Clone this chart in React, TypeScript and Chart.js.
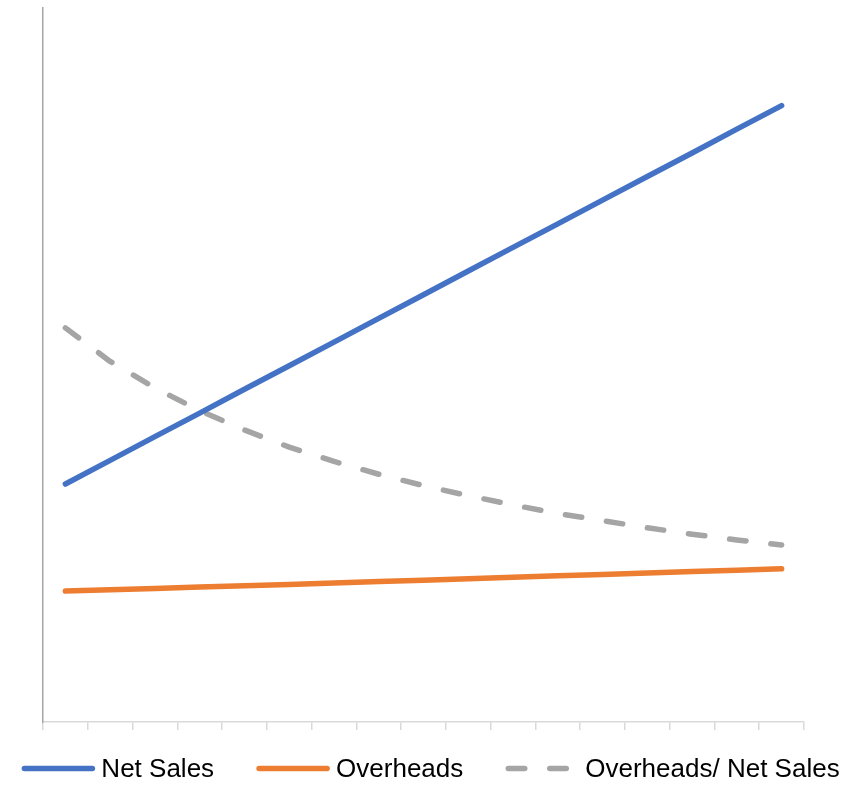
import React, { useEffect, useRef } from "react";
import { Chart, registerables } from "chart.js";

Chart.register(...registerables);

// Periods along the horizontal axis (not labelled on the chart)
const periods = ["1", "2", "3", "4", "5", "6", "7", "8", "9", "10", "11", "12", "13", "14", "15", "16", "17"];

// Net sales per period
const netSales = [100, 109.9, 119.9, 129.8, 139.8, 149.7, 159.6, 169.6, 179.5, 189.5, 199.4, 209.3, 219.3, 229.2, 239.1, 249.1, 259.0];

// Overheads per period
const overheads = [55.0, 55.6, 56.1, 56.7, 57.2, 57.8, 58.4, 59.0, 59.6, 60.2, 60.8, 61.4, 62.0, 62.6, 63.2, 63.8, 64.4];

// Overheads as a share of net sales (secondary axis)
const overheadRatio = [0.552, 0.505, 0.468, 0.436, 0.409, 0.385, 0.365, 0.347, 0.331, 0.317, 0.304, 0.292, 0.282, 0.272, 0.263, 0.255, 0.248];

const seriesNames = ["Net Sales", "Overheads", "Overheads/ Net Sales"];

const BLUE = "#4472C4";
const ORANGE = "#ED7D31";
const GREY = "#A5A5A5";

// Draws a legend row of line samples under the plot
const lineLegend = {
  id: "lineLegend",
  afterDraw(chart: any) {
    const ctx = chart.ctx as CanvasRenderingContext2D;
    ctx.save();
    ctx.font = '26px "Liberation Sans", Arial, sans-serif';
    const items = chart.data.datasets.map((ds: any) => ({
      label: ds.label as string,
      color: ds.borderColor as string,
      dash: (ds.borderDash || []) as number[],
    }));
    const sample = 68;
    const gapText = 9;
    const gapItem = 45;
    const widths = items.map((it: any) => ctx.measureText(it.label).width);
    const total =
      widths.reduce((acc: number, w: number) => acc + sample + gapText + w, 0) +
      gapItem * (items.length - 1);
    let x = 432 - total / 2;
    const yLine = 768.5;
    const yText = 777;
    items.forEach((it: any, i: number) => {
      ctx.beginPath();
      ctx.setLineDash(it.dash);
      ctx.lineWidth = 5.5;
      ctx.lineCap = "round";
      ctx.strokeStyle = it.color;
      ctx.moveTo(x, yLine);
      ctx.lineTo(x + sample, yLine);
      ctx.stroke();
      ctx.setLineDash([]);
      ctx.fillStyle = "#000000";
      ctx.textBaseline = "alphabetic";
      ctx.textAlign = "left";
      ctx.fillText(it.label, x + sample + gapText, yText);
      x += sample + gapText + widths[i] + gapItem;
    });
    ctx.restore();
  },
};

export default function App() {
  const canvasRef = useRef<HTMLCanvasElement | null>(null);

  useEffect(() => {
    document.body.style.margin = "0";
    const canvas = canvasRef.current;
    if (!canvas) return;

    const lineStyle = {
      pointRadius: 0,
      pointHoverRadius: 0,
      borderWidth: 5.5,
      tension: 0,
      borderCapStyle: "round" as const,
      borderJoinStyle: "round" as const,
      fill: false,
    };

    const chart = new Chart(canvas, {
      type: "line",
      data: {
        labels: periods,
        datasets: [
          { ...lineStyle, label: seriesNames[0], data: netSales, borderColor: BLUE, backgroundColor: BLUE, yAxisID: "y" },
          { ...lineStyle, label: seriesNames[1], data: overheads, borderColor: ORANGE, backgroundColor: ORANGE, yAxisID: "y" },
          {
            ...lineStyle,
            label: seriesNames[2],
            data: overheadRatio,
            borderColor: GREY,
            backgroundColor: GREY,
            borderDash: [16.5, 25],
            yAxisID: "y1",
          },
        ],
      },
      options: {
        responsive: false,
        animation: false,
        devicePixelRatio: 1,
        layout: { padding: { left: 43, top: 8, right: 55, bottom: 55 } },
        plugins: {
          legend: { display: false },
          tooltip: { enabled: false },
        },
        scales: {
          x: {
            type: "category",
            offset: true,
            grid: {
              display: true,
              offset: true,
              drawOnChartArea: false,
              drawTicks: true,
              tickLength: 8,
              color: "#D9D9D9",
              lineWidth: 1.5,
            },
            border: { display: true, color: "#D9D9D9", width: 1.5 },
            ticks: { display: false },
          },
          y: {
            position: "left",
            min: 0,
            max: 300,
            grid: { display: false, drawTicks: false },
            border: { display: true, color: "#A6A6A6", width: 1.5 },
            ticks: { display: false },
          },
          y1: {
            position: "right",
            display: false,
            min: 0,
            max: 1,
            grid: { display: false },
          },
        },
      },
      plugins: [lineLegend],
    });

    return () => chart.destroy();
  }, []);

  return (
    <div style={{ width: 859, height: 785 }}>
      <canvas ref={canvasRef} width={859} height={785} style={{ display: "block" }} />
    </div>
  );
}
